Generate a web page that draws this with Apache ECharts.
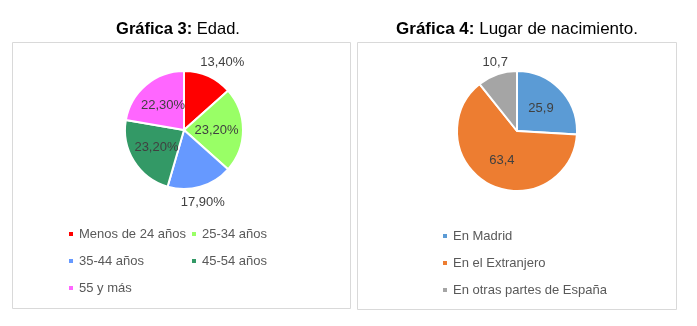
<!DOCTYPE html>
<html>
<head>
<meta charset="utf-8">
<script src="https://cdn.jsdelivr.net/npm/echarts@6/dist/echarts.min.js"></script>
<style>
html,body{margin:0;padding:0;background:#fff;}
#c{width:697px;height:326px;}
</style>
</head>
<body>
<div id="c"></div>
<script>
// Chart 3: Edad
var edadCategories = ['Menos de 24 años', '25-34 años', '35-44 años', '45-54 años', '55 y más'];
var edadValues = [13.4, 23.2, 17.9, 23.2, 22.3];
var edadLabels = ['13,40%', '23,20%', '17,90%', '23,20%', '22,30%'];
var edadColors = ['#FF0000', '#99FF66', '#6699FF', '#339966', '#FF66FF'];

// Chart 4: Lugar de nacimiento
var lugarCategories = ['En Madrid', 'En el Extranjero', 'En otras partes de España'];
var lugarValues = [25.9, 63.4, 10.7];
var lugarLabels = ['25,9', '63,4', '10,7'];
var lugarColors = ['#5B9BD5', '#ED7D31', '#A5A5A5'];

var FONT = '"Liberation Sans", Arial, sans-serif';
var labelColor = '#404040';

// per-item label placement (inside or outside like the original)
var edadOutside = [{len: 15, dist: -14}, null, {len: 16, dist: -24}, null, null];
var lugarOutside = [null, null, {len: 13, dist: -15}];

function buildData(cats, vals, labels, colors, outside) {
  return cats.map(function (n, i) {
    var item = {
      name: n, value: vals[i],
      itemStyle: {color: colors[i]},
      label: {formatter: labels[i]}
    };
    if (outside[i]) {
      item.label.position = 'outside';
      item.label.distanceToLabelLine = outside[i].dist;
      item.labelLine = {show: false, length: outside[i].len, length2: 0};
    } else {
      item.label.position = 'inside';
    }
    return item;
  });
}

var chart = echarts.init(document.getElementById('c'), null, {renderer: 'canvas'});

var legendText = {color: '#595959', fontFamily: FONT, fontSize: 13, lineHeight: 14};

function titleStyle(size) {
  return {fontFamily: FONT, fontSize: size, fontWeight: 'normal', color: '#000',
    rich: {b: {fontFamily: FONT, fontSize: size, fontWeight: 'bold', color: '#000'}}};
}

var option = {
  animation: false,
  backgroundColor: '#fff',
  graphic: [
    {type: 'rect', shape: {x: 12.5, y: 42.5, width: 338, height: 266}, style: {fill: '#fff', stroke: '#D9D9D9', lineWidth: 1}, z: -10},
    {type: 'rect', shape: {x: 357.5, y: 42.5, width: 319, height: 267}, style: {fill: '#fff', stroke: '#D9D9D9', lineWidth: 1}, z: -10}
  ],
  title: [
    {
      text: '{b|Gráfica 3:} Edad.',
      left: 178, top: 21, textAlign: 'center', padding: 0,
      textStyle: titleStyle(16.5)
    },
    {
      text: '{b|Gráfica 4:} Lugar de nacimiento.',
      left: 517, top: 21, textAlign: 'center', padding: 0,
      textStyle: titleStyle(17)
    }
  ],
  legend: [
    {
      data: [edadCategories[0], edadCategories[2], edadCategories[4]],
      orient: 'vertical', left: 67, top: 227, padding: 0,
      itemWidth: 6, itemHeight: 6, itemGap: 13, icon: 'rect',
      textStyle: legendText, selectedMode: false
    },
    {
      data: [edadCategories[1], edadCategories[3]],
      orient: 'vertical', left: 190, top: 227, padding: 0,
      itemWidth: 6, itemHeight: 6, itemGap: 13, icon: 'rect',
      textStyle: legendText, selectedMode: false
    },
    {
      data: lugarCategories,
      orient: 'vertical', left: 441, top: 229, padding: 0,
      itemWidth: 6, itemHeight: 6, itemGap: 13, icon: 'rect',
      textStyle: legendText, selectedMode: false
    }
  ],
  series: [
    {
      type: 'pie',
      center: [184, 130], radius: 59,
      startAngle: 90, clockwise: true,
      avoidLabelOverlap: false,
      itemStyle: {borderColor: '#fff', borderWidth: 2},
      label: {color: labelColor, fontFamily: FONT, fontSize: 13},
      emphasis: {disabled: true},
      data: buildData(edadCategories, edadValues, edadLabels, edadColors, edadOutside)
    },
    {
      type: 'pie',
      center: [517, 131], radius: 60,
      startAngle: 90, clockwise: true,
      avoidLabelOverlap: false,
      itemStyle: {borderColor: '#fff', borderWidth: 2},
      label: {color: labelColor, fontFamily: FONT, fontSize: 13},
      emphasis: {disabled: true},
      data: buildData(lugarCategories, lugarValues, lugarLabels, lugarColors, lugarOutside)
    }
  ]
};
chart.setOption(option);
</script>
</body>
</html>
